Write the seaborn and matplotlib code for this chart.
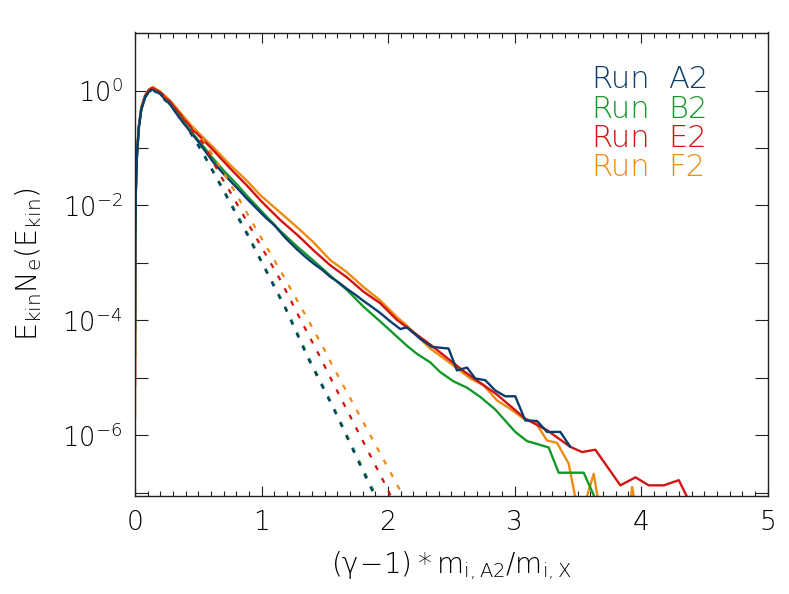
import numpy as np
import pandas as pd
import matplotlib
matplotlib.use("Agg")
import matplotlib.pyplot as plt
import seaborn as sns
from matplotlib.ticker import FixedLocator, FuncFormatter, MultipleLocator

# ---------------- data (x = (gamma-1)*m_iA2/m_iX, values are log10 of E_kin N_e) -------------
runs = ["A2", "B2", "E2", "F2"]
run_colors = ["#0b3c6e", "#13992a", "#d11411", "#ef8a0f"]

a2_x = [0.0003, 0.002, 0.006, 0.015, 0.03, 0.05, 0.08, 0.11, 0.14, 0.20, 0.28, 0.356, 0.45, 0.514,
        0.62, 0.70, 0.80, 0.884, 0.96, 1.042, 1.10, 1.187, 1.279, 1.35, 1.411, 1.48, 1.543, 1.61,
        1.675, 1.74, 1.806, 1.87, 1.938, 2.02, 2.097, 2.149, 2.255, 2.347, 2.479, 2.545, 2.624,
        2.690, 2.769, 2.848, 2.927, 3.006, 3.085, 3.178, 3.257, 3.362, 3.441]
a2_log = [-4.16, -2.60, -1.80, -1.15, -0.65, -0.33, -0.12, -0.02, 0.02, -0.06, -0.25, -0.49, -0.75,
          -0.93, -1.25, -1.45, -1.68, -1.88, -2.05, -2.23, -2.34, -2.56, -2.76, -2.90, -3.01, -3.12,
          -3.24, -3.34, -3.45, -3.55, -3.66, -3.76, -3.87, -4.02, -4.15, -4.12, -4.32, -4.46, -4.49,
          -4.87, -4.82, -5.01, -5.04, -5.22, -5.32, -5.32, -5.74, -5.75, -5.94, -5.94, -6.20]

b2_x = [0.0003, 0.002, 0.006, 0.015, 0.03, 0.05, 0.08, 0.11, 0.14, 0.20, 0.28, 0.356, 0.45, 0.514,
        0.62, 0.70, 0.80, 0.884, 1.0, 1.147, 1.279, 1.411, 1.543, 1.675, 1.806, 1.965, 2.149, 2.228,
        2.334, 2.413, 2.518, 2.624, 2.729, 2.848, 3.006, 3.099, 3.178, 3.270, 3.349, 3.547, 3.626, 3.70]
b2_log = [-4.63, -2.60, -1.80, -1.15, -0.65, -0.33, -0.12, -0.02, 0.02, -0.06, -0.24, -0.47, -0.73,
          -0.90, -1.19, -1.39, -1.62, -1.83, -2.10, -2.44, -2.71, -2.96, -3.22, -3.47, -3.76, -4.07,
          -4.44, -4.58, -4.73, -4.90, -5.06, -5.17, -5.33, -5.55, -5.94, -6.10, -6.15, -6.21, -6.65,
          -6.65, -7.04, -7.40]

e2_x = [0.0003, 0.002, 0.006, 0.015, 0.03, 0.05, 0.08, 0.11, 0.14, 0.20, 0.28, 0.356, 0.45, 0.54,
        0.62, 0.75, 0.884, 1.0, 1.147, 1.292, 1.411, 1.543, 1.675, 1.806, 1.938, 2.070, 2.149, 2.334,
        2.597, 2.861, 3.085, 3.257, 3.441, 3.534, 3.639, 3.837, 3.956, 4.061, 4.180, 4.299, 4.364, 4.40]
e2_log = [-5.13, -2.60, -1.80, -1.14, -0.63, -0.30, -0.09, 0.01, 0.05, -0.03, -0.20, -0.41, -0.66,
          -0.86, -1.04, -1.35, -1.65, -1.93, -2.25, -2.53, -2.78, -3.04, -3.25, -3.50, -3.70, -3.99,
          -4.12, -4.42, -4.88, -5.29, -5.71, -5.91, -6.20, -6.29, -6.25, -6.87, -6.73, -6.87, -6.87,
          -6.78, -7.07, -7.40]

f2_x = [0.0003, 0.002, 0.006, 0.015, 0.03, 0.05, 0.08, 0.11, 0.14, 0.20, 0.28, 0.356, 0.45, 0.54,
        0.62, 0.75, 0.884, 0.99, 1.147, 1.292, 1.411, 1.543, 1.675, 1.806, 1.938, 2.070, 2.149, 2.334,
        2.466, 2.650, 2.756, 2.861, 2.967, 3.072, 3.165, 3.257, 3.336, 3.428, 3.50, 3.54, 3.626, 3.69,
        3.82, 3.93, 3.97]
f2_log = [-5.70, -2.60, -1.80, -1.14, -0.62, -0.29, -0.08, 0.02, 0.06, -0.02, -0.18, -0.38, -0.62,
          -0.82, -0.99, -1.29, -1.57, -1.82, -2.12, -2.40, -2.64, -2.95, -3.16, -3.42, -3.65, -3.94,
          -4.09, -4.49, -4.70, -5.01, -5.13, -5.39, -5.54, -5.71, -5.77, -6.09, -6.13, -6.49, -7.30,
          -7.30, -6.67, -7.50, -9.00, -6.90, -7.40]

# thermal (Maxwellian) fits, dashed
a2_fit_x = [0.14, 0.28, 0.41, 0.53, 0.68, 0.89, 1.19, 1.37, 1.57, 1.85, 1.95]
a2_fit_log = [0.02, -0.25, -0.64, -1.07, -1.67, -2.52, -3.80, -4.67, -5.54, -6.85, -7.30]
b2_fit_x = [0.14, 0.28, 0.41, 0.53, 0.68, 0.89, 1.19, 1.37, 1.57, 1.86, 1.96]
b2_fit_log = [0.02, -0.24, -0.62, -1.05, -1.64, -2.49, -3.77, -4.63, -5.51, -6.85, -7.30]
e2_fit_x = [0.14, 0.28, 0.41, 0.54, 0.66, 0.77, 0.88, 1.15, 1.30, 1.45, 1.55, 2.00, 2.06]
e2_fit_log = [0.05, -0.20, -0.57, -0.92, -1.42, -1.83, -2.26, -3.30, -3.95, -4.58, -5.02, -6.95, -7.25]
f2_fit_x = [0.14, 0.28, 0.41, 0.54, 0.67, 0.80, 0.91, 1.18, 1.34, 1.50, 1.55, 2.07, 2.13]
f2_fit_log = [0.06, -0.18, -0.52, -0.86, -1.32, -1.80, -2.23, -3.25, -3.88, -4.52, -4.74, -6.85, -7.10]

x_ticks = [0, 1, 2, 3, 4, 5]
y_decades = [-7, -6, -5, -4, -3, -2, -1, 0, 1]

# ---------------- figure ----------------
sns.set_theme(style="white")
FONT = "DejaVu Sans"
LIGHT = FONT + ":weight=200"
plt.rcParams["font.family"] = [FONT]
plt.rcParams["font.weight"] = "light"
plt.rcParams["mathtext.fontset"] = "custom"
plt.rcParams["mathtext.rm"] = LIGHT
plt.rcParams["mathtext.it"] = LIGHT
plt.rcParams["mathtext.sf"] = LIGHT
plt.rcParams["mathtext.default"] = "rm"

fig = plt.figure(figsize=(7.89, 5.94), dpi=100)
ax = fig.add_axes([135 / 789, 1 - 495.7 / 594, (767.5 - 135) / 789, (495.7 - 32.5) / 594])

solids = {"A2": (a2_x, a2_log), "B2": (b2_x, b2_log), "E2": (e2_x, e2_log), "F2": (f2_x, f2_log)}
fits = {"A2": (a2_fit_x, a2_fit_log), "B2": (b2_fit_x, b2_fit_log),
        "E2": (e2_fit_x, e2_fit_log), "F2": (f2_fit_x, f2_fit_log)}
cmap = dict(zip(runs, run_colors))

draw_order = ["F2", "E2", "B2", "A2"]
for r in draw_order:
    xs, ls = solids[r]
    df = pd.DataFrame({"x": xs, "y": np.power(10.0, ls)})
    sns.lineplot(data=df, x="x", y="y", ax=ax, color=cmap[r], lw=1.7,
                 estimator=None, sort=False, legend=False)
for r in draw_order:
    xs, ls = fits[r]
    df = pd.DataFrame({"x": xs, "y": np.power(10.0, ls)})
    sns.lineplot(data=df, x="x", y="y", ax=ax, color=cmap[r], lw=1.6,
                 estimator=None, sort=False, legend=False, linestyle=(0, (2.3, 4.1)))

ax.set_yscale("log")
ax.set_xlim(0, 5)
ax.set_ylim(10 ** -7.05, 10 ** 1.01)

ax.xaxis.set_major_locator(FixedLocator(x_ticks))
ax.xaxis.set_minor_locator(MultipleLocator(0.1))
ax.xaxis.set_major_formatter(FuncFormatter(lambda v, p: f"{v:.0f}"))
ax.yaxis.set_major_locator(FixedLocator([10.0 ** k for k in y_decades]))
ax.yaxis.set_minor_locator(FixedLocator([]))


def yfmt(v, p):
    k = int(round(np.log10(v)))
    return rf"$10^{{{k}}}$" if k % 2 == 0 else ""


ax.yaxis.set_major_formatter(FuncFormatter(yfmt))

tick_col = "#222222"
txt_col = "#000000"
ax.tick_params(axis="x", which="major", direction="in", length=7.0, width=0.8,
               top=True, bottom=True, labelsize=19, pad=10, colors=tick_col, labelcolor=txt_col)
ax.tick_params(axis="x", which="minor", direction="in", length=3.8, width=0.8,
               top=True, bottom=True, colors=tick_col)
ax.tick_params(axis="y", which="major", direction="in", length=9.2, width=0.8,
               left=True, right=True, labelsize=18.5, pad=9, colors=tick_col, labelcolor=txt_col)
for s in ax.spines.values():
    s.set_linewidth(1.0)
    s.set_color(tick_col)
    s.set_visible(True)

ax.set_xlabel(r"$(\gamma\!-\!1)*m_{i,A2}/m_{i,X}$", fontsize=20, color=txt_col, va="center")
ax.xaxis.set_label_coords(0.5, -0.152)
ax.set_ylabel(r"$E_{kin}N_e(E_{kin})$", fontsize=20.5, color=txt_col, va="center")
ax.yaxis.set_label_coords(-0.168, 0.5)

legend_y = [0.8795, 0.8148, 0.7535, 0.690]
for r, yy in zip(runs, legend_y):
    ax.text(0.721, yy, "Run", transform=ax.transAxes, color=cmap[r], fontsize=22,
            ha="left", va="baseline", weight="light")
    ax.text(0.843, yy, r, transform=ax.transAxes, color=cmap[r], fontsize=22,
            ha="left", va="baseline", weight="light")

fig.savefig("out.png", dpi=100, facecolor="white")
